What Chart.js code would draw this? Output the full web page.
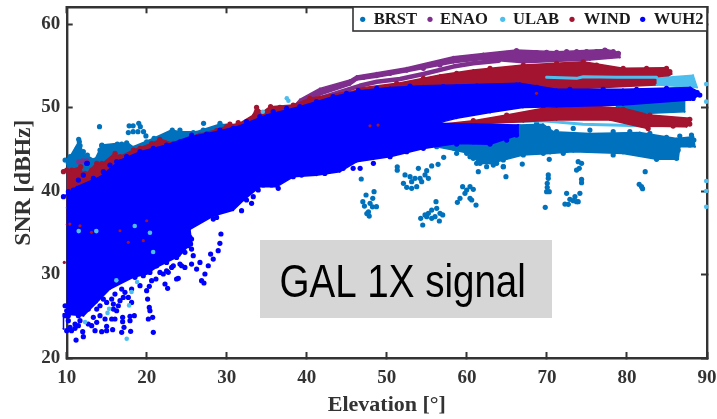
<!DOCTYPE html>
<html><head><meta charset="utf-8">
<style>html,body{margin:0;padding:0;background:#fff}canvas{display:block;filter:blur(0.45px)}</style>
<script src="https://cdn.jsdelivr.net/npm/chart.js@4"></script></head>
<body><canvas id="c" width="717" height="419"></canvas>
<script>
const seriesNames=["BRST","ENAO","ULAB","WIND","WUH2"];
const seriesColors=["#0072BD","#7E2F8E","#4DBEEE","#A2142F","#0000FF"];
const xTickValues=[10,20,30,40,50,60,70,80,90];
const yTickValues=[20,30,40,50,60];
const annotationText="GAL 1X signal";

const brstLeftBand=[[9.8,43.7],[10.4,44.1],[11.5,45.9],[12.1,44.5],[13.5,43.7],[14.4,45.5],[16.2,45.7],[17.7,45.7],[18.3,45.3],[20.8,46.3],[23.1,47.3],[24.1,47.1],[26.2,47.1],[29.1,48],[30.8,47.9],[30.8,46],[10,38]];
const brstRightBand=[[56.2,45.9],[60,47.1],[66.6,47.9],[69.5,48],[70.8,47.1],[75.4,46.9],[81.6,47],[86.2,46.3],[88.3,46.5],[88.5,45.3],[86.6,45.3],[86.4,43.8],[83.7,43.8],[79.5,44.5],[73.3,44.7],[70.4,44.5],[67,44.3],[64.6,43.7],[62.9,43.3],[61.6,43.3],[60.4,44.5],[58.3,44.9],[56.2,45.3]];
const brstStrip=[[78.7,50.1],[81.6,50.5],[87.2,50.9],[87.2,49.5],[82.9,49.3],[79.5,49.5]];
const brstEdge=[[9.8,43.7],[10.21,43.31],[10.42,44.11],[10.92,44.31],[11.33,45.11],[11.58,45.9],[11.67,45.43],[12.08,44.71],[12.58,44.31],[13.54,43.71],[14.16,44.91],[14.37,45.43],[14.91,44.51],[16.33,45.62],[16.87,45.62],[17.49,45.78],[17.7,45.1],[18.53,45.1],[19.99,45.9],[20.91,46.3],[22.28,46.5],[23.19,47.3],[24.15,47.3],[24.78,46.82],[25.82,46.98],[27.06,47.3],[29.15,48.1],[29.98,47.78]];
const brstPoints=[[14.1,47.7],[27.1,48.1],[17.7,47],[18.3,47.1],[18.9,47.1],[19,48.1],[18.3,47.8],[17.8,47.8],[19.2,47.7],[19.6,47.1],[19.9,46.6],[11.5,46.2],[14.4,45.5],
[48.4,39.92],[47.4,39.52],[48.24,39.12],[47.9,38.52],[47.0,38.72],[47.2,38.2],[48.7,38.12],[47.7,37.5],[47.5,37.3],[47.8,37.0],[48.2,38.1],
[51.3,42.9],[51.3,42.5],[52.07,40.92],[52.48,40.44],[53.1,40.32],[53.73,40.52],[52.27,41.92],[52.9,41.72],[53.52,41.52],[54.15,41.52],[54.77,41.92],[53.94,42.71],[54.98,42.44],[55.19,41.52],[55.6,43],[56.4,43.2],[57.1,44.03],[53.1,41.12],[54.35,41.12],[46.8,41.44],
[54.48,35.93],[54.23,36.73],[54.77,37.13],[55.19,37.33],[55.6,37.72],[56.14,38.72],[56.23,37.92],[56.64,37.33],[56.98,37.13],[56.56,36.41],[55.6,36.73],[56.02,36.93],[54.98,36.93],
[59.47,40.52],[59.97,40.12],[60.8,40.2],[59.76,39.72],[59.14,39.12],[58.81,38.64],[60.39,39.12],[60.6,38.92],[61.14,38.32],[60.39,40.52],
[70.29,43.79],[70.17,41.92],[70.17,41.52],[70.04,40.92],[70.04,40.44],[69.96,39.92],[70.29,39.92],[69.79,38.04],[66.92,43.23],[64.88,41.72],[61.43,42.32],
[73.91,43.51],[74.33,43.31],[73.7,42.51],[74.04,42.71],[74.33,41.4],[74.33,41],[72.46,39.72],[74.12,39.72],[73.5,39.32],[72.87,39],[73.29,38.84],[73.7,38.72],[72.25,38.44],[72.67,38.4],[73.91,38.72],
[82.28,42.32],[81.53,40.8],[81.82,40.52],[81.95,40.28],
[60.39,44.11],[61.22,43.31],[62.47,42.91],[63.3,43.11],[64.55,42.91],[64.55,43.71],[62.89,43.71],
[67.05,44.31],[68.3,44.91],[69.54,44.51],[70.79,45.11],[72.04,44.51],[73.7,45.31],[75.37,44.91],[77.03,45.11],[78.28,44.31],[79.53,45.11],[81.2,44.91],[82.86,44.31],[83.7,43.79],[84.94,44.11],[86.19,43.91],[86.4,44.91],[87.85,45.51],[88.36,46.1],[88.06,46.7],[86.6,46.58],[84.94,46.42],[82.86,46.9],[80.36,47.1],[78.28,47.1],[75.37,47.3],[73.29,47.5],[71.2,47.1],[70.17,47.5],[68.71,48.1],
[56.23,45.31],[57.89,45.51],[58.72,44.51],[59.97,44.51],[60.8,43.91],[61.64,43.31],[62.47,43.71],[63.72,43.31],[64.55,42.91],[64.97,44.11],[65.8,44.91]];

const enaoBand=[[38.3,50.1],[39.13,50.97],[41.63,52.29],[45.38,53.29],[46.24,53.77],[48.74,54.17],[52.48,54.77],[58.31,56.08],[62.05,56.48],[66.2,56.88],[71.2,56.68],[77.45,56.96],[79.11,56.56],[79.11,56.0],[75.37,55.68],[67.05,55.37],[62.05,55.76],[58.31,55.37],[52.48,54.29],[48.74,53.61],[46.24,53.29],[45.38,52.69],[41.63,51.49],[39.13,50.49]];
const enaoTrackLower=[[42,51.2],[46.6,52.6],[48.74,53.09],[51.65,53.41],[54.56,54.01],[58.31,54.9],[60.8,55.3],[64,55.6]];
const enaoEdge=[[78.91,56.48],[78.28,56.68],[77.24,56.88],[76.2,56.68],[74.95,56.68],[73.71,56.68],[72.46,56.68],[71.21,56.6],[69.96,56.6],[68.71,56.56],[67.46,56.56],[66.2,56.8],[64.97,56.48],[63.72,56.28],[62.47,56.16],[60.8,56.08],[59.14,55.88],[58.31,55.76],[56.64,55.09],[54.56,54.69],[52.48,54.49],[50.4,54.09],[48.74,53.89],[47.07,53.61]];
const enaoPoints=[[11.5,43.5],[12,43.6],[12.5,43.6],[19.5,44.7],[20,44.8]];

const ulabStripUpper=[[69.96,53.61],[73.7,53.49],[74.54,53.69],[78.7,53.61],[83.7,53.61]];
const ulabPatch=[[83.7,53.49],[85.77,53.69],[88.27,53.85],[88.77,52.41],[83.7,52.69]];
const ulabStripLower=[[60.6,47.9],[63.7,48.3],[69.5,48.4],[74.5,48],[81.6,47.8],[87.2,47.8]];
const ulabPoints=[[89.9,52.8],[89.9,50.7],[89.9,41.2],[89.9,40.0],[89.9,38.1],[37.5,51.1],[37.7,50.8],[34.5,49.5],[12.3,24.3],[17.5,22.3],[18.1,27.9],[17.8,26.3],[15.3,25.9],[16.2,29.3],[18.8,29.1],[20.8,32.7],[20.4,35],[18.5,35.8],[13.7,35.2],[11.5,35.2],[15.1,25.4]];

const windLeftBand=[[9.6,42.5],[10.5,42.5],[11.7,42.9],[12.1,41.7],[13.7,43.3],[14.5,43.3],[16,44.5],[16.6,44.1],[18.3,44.9],[20.6,45.7],[21.7,46.2],[23.3,45.7],[25,46.1],[26.2,46.7],[28.7,47.3],[30.4,47.9],[31.6,48.1],[33.3,49.1],[33.7,50.1],[34.4,49.4],[35.4,50.1],[38.3,50.3],[40.4,51.1],[44.1,51.7],[46.6,52.1],[46.6,50],[10,36]];
const windUpperBand=[[46.24,52.29],[51.23,52.89],[56.64,53.89],[60.8,54.49],[67.05,55.09],[74.54,55.48],[79.53,54.69],[84.94,54.77],[85.57,54.01],[83.7,52.69],[74.54,52.29],[67.05,52.09],[46.24,51.29]];
const windLowerBand=[[56.02,47.9],[60.8,48.42],[64.97,49.1],[69.54,49.9],[75.37,50.18],[79.53,49.9],[82.86,49.1],[87.85,48.7],[87.98,48.1],[87.44,47.7],[82.86,47.78],[82.45,47.5],[77.87,48.5],[71.2,48.5],[67.05,48.3],[62.89,48.1],[56.02,47.7]];
const windEdge=[[9.59,42.31],[10,42.51],[10.63,42.51],[11.25,42.31],[11.75,42.91],[12.29,42.11],[13.12,42.51],[13.75,43.31],[14.37,43.31],[15,43.11],[16.04,44.51],[16.66,44.11],[17.29,43.91],[18.33,44.91],[19.16,45.11],[20.61,45.7],[21.63,46.18],[22.49,45.7],[23.32,45.7],[24.36,45.9],[25.4,46.1],[26.65,46.7],[28.73,47.22],[29.98,47.7],[30.39,48.02],[31.43,48.18],[33.52,49.1],[33.72,50.02],[34.06,49.3],[35.47,50.1],[36.64,50.02],[38.3,50.3],[40.38,51.1],
[51.23,52.89],[54.56,53.49],[58.72,54.09],[62.89,54.69],[67.05,55.09],[71.21,55.28],[74.54,55.48],[76.2,55.09],[79.53,54.69],[82.45,54.69],[84.94,54.69],[85.36,54.29],[84.94,53.89],
[56.23,47.78],[60.8,48.42],[64.97,49.1],[69.54,49.9],[75.37,50.1],[79.53,49.78],[82.86,49.1],[87.85,48.58],[87.85,48.02],[85.77,47.78],[82.65,47.5]];
const windSpecks=[[47.9,47.8],[48.9,47.9],[68.7,51.7],[10.4,36.04],[11.66,35.84],[13.1,35.05],[16.66,35.24],[17.7,33.85],[19.57,34.05],[20,36.44],[9.7,31.45]];

const wuh2Band=[[9.6,39.3],[11.25,40.5],[14.2,41.7],[16.7,43.7],[19.2,44.7],[22.5,45.5],[25.4,46.5],[28.7,47.1],[31.6,47.8],[35,49.1],[39.1,50.1],[43.3,51.3],[46.6,52],[50.4,52.4],[54.6,52.6],[58.7,52.7],[66.6,52.9],[71.2,52.2],[79.5,52.2],[87.9,52.4],[88.9,51.9],[89.1,51.5],[87.9,50.9],[79.5,50.3],[71.2,50.1],[67,50],[62.9,49.4],[58.7,48.7],[56.2,48.1],[66.4,47.9],[66.4,46.7],[62.9,45.6],[58.7,45.7],[54.6,45.1],[50.4,44.1],[46.2,43.5],[44.1,42.3],[41.2,41.9],[38.3,41.7],[36.2,40.5],[34.1,40.5],[32.1,38.9],[30.8,37.7],[28.3,37],[25.4,35.4],[25.6,33.85],[24.1,32.25],[21.2,30.85],[20,30.06],[18.3,29.66],[15.4,28.26],[13.75,26.66],[12.1,25.07],[9.6,25.27],[9.6,23.5]];
const wuh2Edge=[[9.59,39.32],[10.21,39.92],[10.83,40.12],[11.46,41.31],[12.08,41.91],[12.58,43.31],[13.33,41.51],[14.58,42.31],[15.41,43.11],[16.25,43.51],[17.49,44.11],[19.16,44.71],[20.82,45.11],[22.49,45.51],[24.15,45.9],[25.61,46.7],[27.48,46.82],[29.15,47.3],[30.81,47.5],[32.47,48.3],[34.14,48.9],[35.8,49.5],[37.47,49.9],[39.13,50.1],[41.21,50.7],[43.29,51.31],[44.96,51.69],[46.42,52.01],
[48.74,52.29],[52.9,52.57],[57.06,52.49],[61.22,52.57],[66.2,52.69],[68.71,52.41],[72.87,52.17],[77.03,52.17],[81.2,52.17],[84.94,52.29],[87.85,52.17],[88.77,51.77],[89.1,51.49],[88.27,51.09]];
const wuh2Points=[[12.5,43.3],[11.17,22.15],[12.08,22.55],[12,23.15],[10,23.27],[10.6,23.27],[11.46,23.87],[10.2,24.47],[11.04,24.07],[13.12,23.87],[13.75,24.27],[13.54,23.27],[14.37,23.15],[14.99,23.27],[14.99,23.79],[15.74,23.39],[16.87,23.07],[17.99,23.19],[17.16,23.67],[16.99,24.35],[16.99,24.87],[17.91,24.47],[17.91,24.99],[18.45,25.07],[15.62,24.67],[16.03,24.67],[14.79,24.67],[14.16,25.07],[15.83,25.86],[16.45,26.26],[16.24,25.66],[17.07,27.26],[17.7,27.26],[18.11,26.66],[20.11,27.06],[20.32,26.06],[20.4,25.66],[20.2,24.67],[20.74,24.87],[20.82,23.07],[19.99,28.06],[20.32,28.58],[20.61,29.26],[21.15,29.46],[22.07,30.06],[22.69,30.26],[22.28,28.86],[22.61,28.34],[23.73,29.46],[23.94,29.54],[25.6,31.25],[26.23,30.65],[26.65,31.45],[27.27,30.06],[26.85,29.26],[27.15,28.98],[27.69,31.05],[28.31,31.85],[28.93,32.85],[27.98,32.45],[29.14,33.73],[29.27,34.85],[25.81,32.25],[24.36,31.05],[24.77,30.85],[23.32,31.05],[22.48,31.45],[22.9,35.84],[24.15,34.85],[25.4,34.45],[25.48,33.65],[28.31,36.64],[29.35,37.64],[31.85,37.64],
[9.8,26.26],[10,25.66],[10.42,25.86],[9.8,25.07],[10.2,25.07],[10.83,25.46],[11.46,25.07],[12.08,25.46],[12.7,25.86],[10.42,23.67],[11.04,23.55],[11.66,24.47],[13.33,24.87],[12.7,24.07],[13.75,25.86],[14.16,26.26],[14.58,27.06],[14.99,26.66],[15.62,27.06],[16.03,27.66],[16.87,28.26],[15.83,26.46],[16.66,26.86],[17.28,27.86],[18.11,28.26],[19.16,28.66],[18.53,29.66],[19.57,29.86],[20.4,30.25],[21.24,31.05],[21.65,30.25],[22.48,30.45],[23.11,30.85],[24.15,31.25],[23.73,32.05],[24.77,32.65],[25.19,33.45],[25.6,33.05],[22.28,32.65],[23.32,34.65],[22.48,36.04],[23.73,35.25],[24.98,34.85],[25.6,34.25],[28.31,37.24],[28.73,36.84],
[31.64,39.32],[32.47,38.92],[33.31,39.32],[33.1,38.52],[33.93,40.12],[34.56,40.72],[35.6,40.72],[36.43,40.32],[37.47,42.11],[38.3,41.71],[39.34,41.91],[40.17,43.11],[41.21,42.31],[42.25,42.11],[43.29,42.51],[44.54,42.71],[45.79,42.71],
[46.66,42.71],[48.32,43.31],[50.4,44.11],[52.48,44.71],[54.56,45.11],[56.64,45.71],[58.72,45.62],[60.8,45.9],[62.89,45.62],[64.97,46.1],[66.2,46.7]];

const [cB,cE,cU,cW,cH]=seriesColors;
function shape(label,data,color,order){return {label,data,order,showLine:true,fill:'shape',tension:0,borderColor:color,backgroundColor:color,borderWidth:1.5,borderJoinStyle:'round',pointRadius:1,pointBorderWidth:0,pointBackgroundColor:color,clip:false};}
function track(label,data,color,order,w){return {label,data,order,showLine:true,fill:false,tension:0,borderColor:color,borderWidth:w,borderCapStyle:'round',borderJoinStyle:'round',pointRadius:0,clip:false};}
function dots(label,data,color,order,r){return {label,data,order,showLine:false,pointRadius:r||2.6,pointBorderWidth:0,pointBackgroundColor:color,backgroundColor:color,clip:false};}

const datasets=[
 shape(seriesNames[0],brstLeftBand,cB,20),shape(seriesNames[0],brstRightBand,cB,20),shape(seriesNames[0],brstStrip,cB,20),dots(seriesNames[0],brstPoints,cB,20),dots(seriesNames[0],brstEdge,cB,20),
 shape(seriesNames[1],enaoBand,cE,18),track(seriesNames[1],enaoTrackLower,cE,18,4.5),dots(seriesNames[1],enaoPoints,cE,18),dots(seriesNames[1],enaoEdge,cE,18),
 track(seriesNames[2],ulabStripLower,cU,16,3),
 shape(seriesNames[3],windLeftBand,cW,14),shape(seriesNames[3],windUpperBand,cW,14),shape(seriesNames[3],windLowerBand,cW,14),dots(seriesNames[3],windEdge,cW,14),
 track(seriesNames[2],ulabStripUpper,cU,12,3),shape(seriesNames[2],ulabPatch,cU,12),dots(seriesNames[2],ulabPoints,cU,3,2.3),
 shape(seriesNames[4],wuh2Band,cH,8),dots(seriesNames[4],wuh2Points,cH,8),dots(seriesNames[4],wuh2Edge,cH,8),
 dots(seriesNames[3],windSpecks,cW,4,1.6)
];

const dark='#333';
const tickFont={family:'"Liberation Serif"',weight:'bold',size:19};
function grid(){return {drawOnChartArea:false,drawTicks:true,tickLength:-6,tickWidth:2,tickColor:dark};}
const border={color:dark,width:2.4};
function noPad(s){s.paddingLeft=s.paddingRight=s.paddingTop=s.paddingBottom=0;}

const overlay={id:'overlay',afterDatasetsDraw(chart){
 const ctx=chart.ctx;ctx.save();
 ctx.fillStyle='#d6d6d6';ctx.fillRect(260,240,292,78);
 ctx.fillStyle='#000';ctx.textAlign='left';ctx.textBaseline='alphabetic';
 ctx.save();ctx.translate(279.5,297);ctx.scale(0.82,1);ctx.font='47px "Liberation Sans"';ctx.fillText(annotationText,0,0);ctx.restore();
 ctx.fillStyle='#fff';ctx.strokeStyle=dark;ctx.lineWidth=1.6;
 ctx.fillRect(353,7,354,24);ctx.strokeRect(353,7,354,24);
 const dotX=[362.7,430,502.7,572,642.7],textX=[373.7,440,513,583.7,653.7];
 ctx.font='bold 16.6px "Liberation Serif"';ctx.textBaseline='middle';
 seriesNames.forEach((n,i)=>{
  ctx.fillStyle=seriesColors[i];ctx.beginPath();ctx.arc(dotX[i],19.3,2.6,0,Math.PI*2);ctx.fill();
  ctx.fillStyle='#1a1a1a';ctx.fillText(n,textX[i],19.5);
 });
 ctx.restore();
}};

new Chart(document.getElementById('c'),{
 type:'scatter',
 data:{datasets},
 plugins:[overlay],
 options:{
  responsive:false,animation:false,devicePixelRatio:1,
  layout:{padding:{left:0,right:10,top:7.3,bottom:0}},
  plugins:{legend:{display:false},tooltip:{enabled:false},title:{display:false}},
  scales:{
   x:{type:'linear',min:10,max:90,position:'bottom',afterBuildTicks(s){s.ticks=xTickValues.map(value=>({value}));},
      ticks:{font:tickFont,color:dark,padding:15,maxRotation:0,autoSkip:false},grid:grid(),border,
      title:{display:true,text:'Elevation [°]',color:dark,font:{family:'"Liberation Serif"',weight:'bold',size:22},padding:{top:0,bottom:0}},
      afterFit(s){s.height=61;noPad(s);}},
   y:{type:'linear',min:20,max:62,position:'left',afterBuildTicks(s){s.ticks=yTickValues.map(value=>({value}));},
      ticks:{font:tickFont,color:dark,padding:12.5,autoSkip:false},grid:grid(),border,
      title:{display:true,text:'SNR [dBHz]',color:dark,font:{family:'"Liberation Serif"',weight:'bold',size:23.5},padding:{top:10,bottom:0}},
      afterFit(s){s.width=66.7;noPad(s);}},
   x2:{type:'linear',min:10,max:90,position:'top',afterBuildTicks(s){s.ticks=xTickValues.map(value=>({value}));},
      ticks:{display:false},grid:grid(),border,afterFit(s){s.height=0;noPad(s);}},
   y2:{type:'linear',min:20,max:62,position:'right',afterBuildTicks(s){s.ticks=yTickValues.map(value=>({value}));},
      ticks:{display:false},grid:grid(),border,afterFit(s){s.width=0;noPad(s);}}
  }
 }
});
</script></body></html>
